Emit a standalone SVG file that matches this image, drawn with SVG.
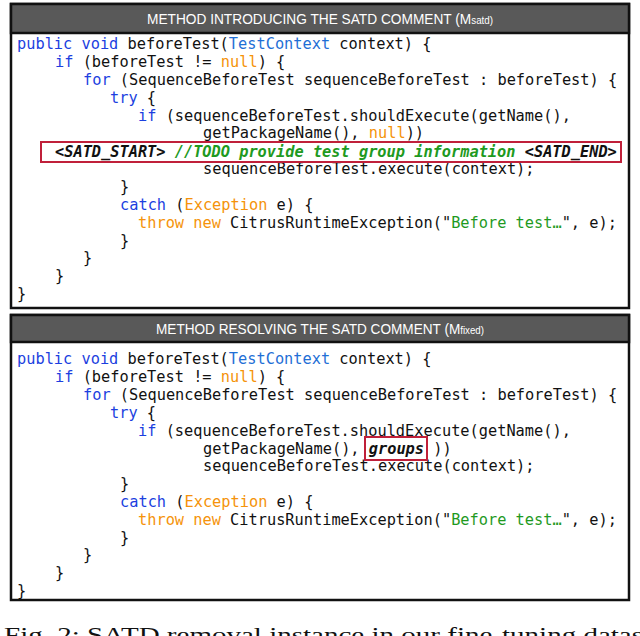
<svg xmlns="http://www.w3.org/2000/svg" width="640" height="636" viewBox="0 0 640 636">
<style>
.code{font-family:"DejaVu Sans Mono",monospace;font-size:15.3px;fill:#111;white-space:pre}
.k{fill:#1c3fe0}.t{fill:#1f6fd6}.o{fill:#f5930a}.g{fill:#1f9a1f}
.hd{font-family:"Liberation Sans",Arial,sans-serif;font-size:14px;fill:#fff}
.sub{font-size:10px}
.box{fill:#fff;stroke:#111;stroke-width:2.5}
.hdr{fill:#595959;stroke:#111;stroke-width:2.5}
.red{fill:none;stroke:#c0203a;stroke-width:2}
</style>
<g id="box1">
<rect class="box" x="11" y="4" width="618" height="304"/>
<rect class="hdr" x="11" y="4" width="618" height="29"/>
<text class="hd" x="147" y="24" textLength="346" lengthAdjust="spacingAndGlyphs">METHOD INTRODUCING THE SATD COMMENT (M<tspan class="sub">satd)</tspan></text>
<g class="code">
<text x="17" y="49"><tspan class="k">public void</tspan> beforeTest(<tspan class="t">TestContext</tspan> context) {</text>
<text x="55" y="67"><tspan class="k">if</tspan> (beforeTest != <tspan class="o">null</tspan>) {</text>
<text x="83" y="85"><tspan class="k">for</tspan> (SequenceBeforeTest sequenceBeforeTest : beforeTest) {</text>
<text x="110" y="103"><tspan class="k">try</tspan> {</text>
<text x="138" y="121"><tspan class="k">if</tspan> (sequenceBeforeTest.shouldExecute(getName(),</text>
<text x="203" y="138">getPackageName(), <tspan class="o">null</tspan>))</text>
<text x="55" y="157" font-weight="bold" font-style="italic">&lt;SATD_START&gt; <tspan class="g">//TODO provide test group information</tspan> &lt;SATD_END&gt;</text>
<text x="203" y="174">sequenceBeforeTest.execute(context);</text>
<text x="120" y="192">}</text>
<text x="120" y="210"><tspan class="k">catch</tspan> (<tspan class="o">Exception</tspan> e) {</text>
<text x="138" y="228"><tspan class="o">throw new</tspan> CitrusRuntimeException("<tspan class="g">Before test…</tspan>", e);</text>
<text x="120" y="246">}</text>
<text x="83" y="263">}</text>
<text x="55" y="281">}</text>
<text x="17" y="299">}</text>
</g>
<rect class="red" x="41" y="142" width="580" height="20"/>
</g>
<g id="box2">
<rect class="box" x="11" y="315" width="618" height="285"/>
<rect class="hdr" x="11" y="315" width="618" height="27"/>
<text class="hd" x="156" y="334" textLength="328" lengthAdjust="spacingAndGlyphs">METHOD RESOLVING THE SATD COMMENT (M<tspan class="sub">fixed)</tspan></text>
<g class="code">
<text x="17" y="364"><tspan class="k">public void</tspan> beforeTest(<tspan class="t">TestContext</tspan> context) {</text>
<text x="55" y="382"><tspan class="k">if</tspan> (beforeTest != <tspan class="o">null</tspan>) {</text>
<text x="83" y="400"><tspan class="k">for</tspan> (SequenceBeforeTest sequenceBeforeTest : beforeTest) {</text>
<text x="110" y="418"><tspan class="k">try</tspan> {</text>
<text x="138" y="436"><tspan class="k">if</tspan> (sequenceBeforeTest.shouldExecute(getName(),</text>
<text x="203" y="454">getPackageName(), <tspan font-weight="bold" font-style="italic">groups</tspan> ))</text>
<text x="203" y="471">sequenceBeforeTest.execute(context);</text>
<text x="120" y="489">}</text>
<text x="120" y="507"><tspan class="k">catch</tspan> (<tspan class="o">Exception</tspan> e) {</text>
<text x="138" y="525"><tspan class="o">throw new</tspan> CitrusRuntimeException("<tspan class="g">Before test…</tspan>", e);</text>
<text x="120" y="543">}</text>
<text x="83" y="560">}</text>
<text x="55" y="578">}</text>
<text x="17" y="596">}</text>
</g>
<rect class="red" x="365" y="437" width="62" height="23"/>
</g>
<text x="4" y="642" font-family="Liberation Serif,serif" font-size="21" fill="#111" textLength="660" lengthAdjust="spacingAndGlyphs">Fig. 2: SATD removal instance in our fine-tuning dataset</text>
</svg>
